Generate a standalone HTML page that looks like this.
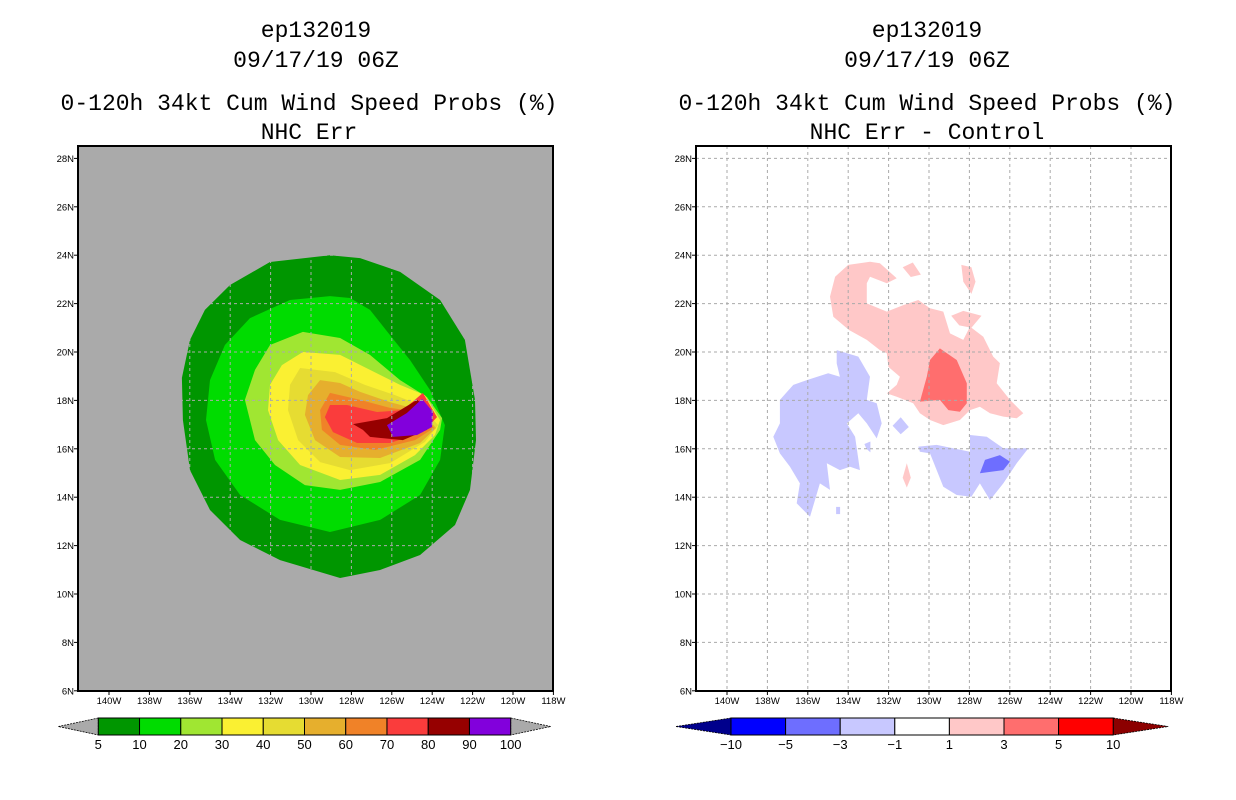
<!DOCTYPE html>
<html><head><meta charset="utf-8">
<style>
html,body{margin:0;padding:0;background:#fff;}
svg{display:block;}
.t{font-family:"Liberation Mono",monospace;font-size:23px;fill:#000;text-anchor:middle;}
.ax{font-family:"Liberation Sans",sans-serif;font-size:9.5px;fill:#000;}
.cb{font-family:"Liberation Sans",sans-serif;font-size:13px;fill:#000;text-anchor:middle;}
</style></head>
<body>
<svg id="chart" width="1236" height="800" viewBox="0 0 1236 800" xmlns="http://www.w3.org/2000/svg">
<text class="t" x="316" y="37">ep132019</text>
<text class="t" x="316" y="67">09/17/19 06Z</text>
<text class="t" x="309" y="110">0-120h 34kt Cum Wind Speed Probs (%)</text>
<text class="t" x="309" y="139">NHC Err</text>
<text class="t" x="927" y="37">ep132019</text>
<text class="t" x="927" y="67">09/17/19 06Z</text>
<text class="t" x="927" y="110">0-120h 34kt Cum Wind Speed Probs (%)</text>
<text class="t" x="927" y="139">NHC Err - Control</text>
<g id="layers"></g>
</svg>
<script>
// ---- data (lon in degrees W, lat in degrees N) ----
const lonTicks = [140,138,136,134,132,130,128,126,124,122,120,118];
const latTicks = [6,8,10,12,14,16,18,20,22,24,26,28];
const leftLevels = ["5","10","20","30","40","50","60","70","80","90","100"];
const leftColors = ["#009600","#00dc00","#a0e632","#faf032","#e6dc32","#e6af2d","#f08228","#fa3c3c","#960000","#8200dc"];
const rightLevels = ["-10","-5","-3","-1","1","3","5","10"];
const rightColors = ["#00008c","#0000ff","#6e6eff","#c8c8ff","#ffffff","#ffc8c8","#ff6e6e","#ff0000","#8c0000"];

const p5 = [[129.06,24.0],[132.03,23.72],[134.01,22.77],[135.25,21.74],[135.99,20.5],[136.39,18.93],[136.34,17.19],[135.99,15.12],[135.0,13.47],[133.51,12.23],[131.53,11.40],[128.56,10.66],[126.58,10.99],[124.6,11.61],[122.87,12.85],[122.13,14.30],[121.83,16.36],[121.88,18.02],[122.38,20.5],[123.61,22.15],[125.59,23.31],[127.57,23.88]];
const p10 = [[129.06,22.31],[131.04,22.15],[133.02,21.4],[134.26,20.29],[135.0,18.84],[135.2,17.19],[134.75,15.54],[133.51,14.09],[131.53,13.06],[129.06,12.56],[126.58,13.06],[124.6,14.09],[123.61,15.54],[123.37,16.98],[124.11,18.43],[125.1,19.67],[126.09,20.70],[127.08,21.74],[128.07,22.23]];
const p20 = [[130.4,20.83],[132.03,20.29],[132.77,19.26],[133.27,18.02],[132.77,16.36],[131.78,15.33],[130.3,14.5],[128.56,14.30],[126.58,14.63],[124.6,15.54],[123.61,16.78],[123.51,17.27],[124.26,18.14],[125.59,18.84],[127.08,19.88],[128.56,20.58]];
const p30 = [[130.4,20.0],[131.44,19.46],[132.03,18.64],[132.13,17.60],[131.63,16.36],[130.54,15.33],[128.56,14.71],[126.58,14.92],[124.85,15.74],[123.86,16.57],[123.61,17.19],[124.36,18.22],[125.59,18.64],[127.08,19.26],[128.56,19.88]];
const p40 = [[130.54,19.34],[131.04,18.64],[131.14,17.60],[130.64,16.36],[129.55,15.45],[128.07,15.12],[126.09,15.41],[124.36,16.28],[123.71,16.98],[124.6,17.81],[125.84,18.22],[127.33,18.64],[128.81,19.17]];
const p50 = [[129.55,18.84],[130.15,18.22],[130.3,17.40],[129.8,16.36],[128.56,15.66],[126.58,15.62],[124.6,16.24],[123.81,16.86],[124.6,17.60],[126.09,17.93],[127.57,18.35],[128.56,18.72]];
const p60 = [[129.06,18.31],[129.55,17.6],[129.46,16.78],[128.56,16.16],[126.83,15.95],[124.85,16.36],[123.91,16.86],[124.6,17.52],[126.09,17.69],[127.57,18.02]];
const p70 = [[129.06,17.81],[129.31,17.31],[128.91,16.69],[127.72,16.24],[126.09,16.24],[124.46,16.69],[123.76,17.31],[124.46,18.31],[125.45,17.60],[126.73,17.52],[128.22,17.81]];
const p80 = [[127.92,17.02],[126.24,17.27],[124.75,18.02],[123.96,17.48],[124.26,16.78],[125.45,16.36],[127.08,16.49],[127.43,16.78]];
const p90 = [[126.24,16.98],[125.25,17.48],[124.5,18.06],[123.96,17.52],[124.01,16.90],[124.75,16.57],[125.94,16.49]];
const leftPolys = [p5,p10,p20,p30,p40,p50,p60,p70,p80,p90];

const pinkMain = [[134.0,23.6],[132.92,23.73],[132.43,23.67],[131.6,23.05],[132.09,22.84],[132.92,23.11],[133.08,22.84],[133.08,22.01],[132.09,21.67],[131.27,21.94],[130.53,22.15],[129.95,21.81],[129.29,21.67],[128.96,20.77],[128.30,20.5],[127.97,21.05],[127.31,20.63],[126.82,19.81],[126.49,19.54],[126.65,18.71],[125.99,18.02],[125.33,17.47],[125.66,17.26],[126.32,17.33],[126.98,17.47],[127.48,17.74],[127.97,17.60],[128.47,17.19],[129.29,16.98],[129.95,17.19],[130.45,17.47],[130.78,17.88],[131.6,18.15],[132.09,18.29],[131.6,18.64],[131.44,18.98],[132.01,19.39],[132.09,19.95],[132.43,20.08],[133.08,20.5],[133.96,20.91],[134.74,21.46],[134.9,22.29],[134.65,23.11]];
const pinkB1 = [[131.3,23.5],[130.8,23.7],[130.4,23.2],[130.9,23.1]];
const pinkB2 = [[128.4,23.6],[127.9,23.5],[127.7,22.9],[127.9,22.4],[128.3,22.9]];
const pinkB3 = [[128.9,21.5],[128.3,21.7],[127.4,21.5],[127.9,21.0],[128.5,21.1]];
const pinkB4 = [[131.1,15.4],[130.9,14.8],[131.1,14.4],[131.3,14.8]];
const redCore = [[129.95,19.67],[129.46,20.15],[128.63,19.67],[128.13,18.71],[128.13,17.88],[128.47,17.53],[129.04,17.60],[129.46,18.02],[130.45,17.95],[130.11,18.98]];
const blueWest = [[134.57,20.08],[133.5,19.81],[132.92,18.98],[133.08,18.02],[132.59,17.88],[132.34,17.05],[132.59,16.43],[133.08,17.05],[133.5,17.47],[134.07,17.05],[133.66,16.5],[133.42,15.12],[133.91,15.26],[134.41,15.12],[135.06,15.40],[134.9,14.30],[135.4,14.57],[135.89,13.19],[136.55,13.75],[136.39,14.57],[136.88,15.26],[137.38,15.81],[137.71,16.5],[137.38,17.05],[137.38,18.02],[136.72,18.64],[136.05,18.84],[134.99,19.12],[134.41,18.98],[134.57,19.53]];
const blueB1 = [[131.8,16.95],[131.4,17.3],[131.0,16.9],[131.4,16.6]];
const blueB2 = [[133.2,16.2],[132.9,16.3],[132.9,15.85],[133.1,16.0]];
const blueB3 = [[134.6,13.6],[134.4,13.6],[134.4,13.3],[134.6,13.3]];
const blueEast = [[130.53,16.09],[129.62,16.16],[127.97,15.88],[127.97,16.57],[127.14,16.5],[126.32,16.02],[125.08,16.02],[125.66,15.40],[126.32,14.57],[126.98,13.88],[127.48,14.57],[127.9,14.02],[128.63,14.09],[129.29,14.43],[129.95,15.81],[130.45,15.88]];
const blueCore = [[127.23,15.54],[126.49,15.74],[125.99,15.47],[126.32,15.12],[127.48,14.99]];

// ---- axis functions ----
const NS='http://www.w3.org/2000/svg';
function xOf(lon, off){ return off + 31 + (140 - lon) * 20.2; }
function yOf(lat){ return 352 - (lat - 20) * 24.2; }
const layers = document.getElementById('layers');
function mk(tag, attrs, parent){ const e=document.createElementNS(NS,tag); for(const k in attrs) e.setAttribute(k,attrs[k]); (parent||layers).appendChild(e); return e; }
function poly(pts, off, fill, name, parent){
  const e = mk('polygon',{points: pts.map(p=>xOf(p[0],off).toFixed(1)+','+yOf(p[1]).toFixed(1)).join(' '), fill: fill}, parent);
  
  
  return e;
}
function panel(off, bg, idx){
  const g = mk('g',{});
  
  
  const clipId = 'clip'+idx;
  const cp = mk('clipPath',{id:clipId}, g);
  mk('rect',{x:off,y:146,width:475,height:545}, cp);
  const bgr = mk('rect',{x:off,y:146,width:475,height:545,fill:bg}, g);
  
  
  const inner = mk('g',{'clip-path':'url(#'+clipId+')'}, g);
  return {g, inner};
}
function gridAndFrame(P, off, gridColor){
  lonTicks.forEach(l=>{ const x=xOf(l,off); const ln=mk('line',{x1:x,y1:146,x2:x,y2:691,stroke:gridColor,'stroke-width':1,'stroke-dasharray':'3,3'}, P.inner);
      });
  latTicks.forEach(l=>{ const y=yOf(l); const ln=mk('line',{x1:off,y1:y,x2:off+475,y2:y,stroke:gridColor,'stroke-width':1,'stroke-dasharray':'3,3'}, P.inner);
      });
  const fr = mk('rect',{x:off,y:146,width:475,height:545,fill:'none',stroke:'#000','stroke-width':2}, P.g);
   
  lonTicks.forEach(l=>{ const x=xOf(l,off);
    mk('line',{x1:x,y1:691,x2:x,y2:695,stroke:'#000','stroke-width':1},P.g);
    const t=mk('text',{x:x,y:704,'text-anchor':'middle',class:'ax'},P.g); t.textContent=l+'W';
      });
  latTicks.forEach(l=>{ const y=yOf(l);
    mk('line',{x1:off-4,y1:y,x2:off,y2:y,stroke:'#000','stroke-width':1},P.g);
    const t=mk('text',{x:off-4,y:y+3.5,'text-anchor':'end',class:'ax'},P.g); t.textContent=l+'N';
      });
}
const L = panel(78, '#aaaaaa', 0);
leftPolys.forEach((p,i)=>poly(p, 78, leftColors[i], 'prob-contour-'+leftLevels[i], L.inner));
gridAndFrame(L, 78, '#aaaaaa');
const R = panel(696, '#ffffff', 1);
[pinkMain,pinkB1,pinkB2,pinkB3,pinkB4].forEach(p=>poly(p,696,rightColors[5],'diff-contour-1-to-3',R.inner));
poly(redCore,696,rightColors[6],'diff-contour-3-to-5',R.inner);
[blueWest,blueB1,blueB2,blueB3,blueEast].forEach(p=>poly(p,696,rightColors[3],'diff-contour-minus1-to-minus3',R.inner));
poly(blueCore,696,rightColors[2],'diff-contour-minus3-to-minus5',R.inner);
gridAndFrame(R, 696, '#aaaaaa');

function colorbar(x0, boxW, triW, labels, name, leftTriColor, rightTriColor, boxColors){
  const g = mk('g',{});
  
  
  const y0=718, y1=735, ym=726.5;
  const end = x0 + boxColors.length*boxW;
  const lt = mk('polygon',{points:`${x0-triW},${ym} ${x0},${y0} ${x0},${y1}`,fill:leftTriColor,stroke:'#000','stroke-width':0.8,'stroke-dasharray':'2,1'},g);
   
  const rt = mk('polygon',{points:`${end},${y0} ${end+triW},${ym} ${end},${y1}`,fill:rightTriColor,stroke:'#000','stroke-width':0.8,'stroke-dasharray':'2,1'},g);
   
  boxColors.forEach((c,i)=>{ const r=mk('rect',{x:x0+i*boxW,y:y0,width:boxW,height:y1-y0,fill:c,stroke:'#000','stroke-width':1},g);
      });
  labels.forEach((s,i)=>{ const t=mk('text',{x:x0+i*boxW,y:749,class:'cb'},g); t.textContent=s.replace('-','\u2212');
      });
}
colorbar(98.3, 41.24, 40, leftLevels, 'left-colorbar', '#aaaaaa', '#aaaaaa', leftColors);
colorbar(731, 54.6, 55, rightLevels, 'right-colorbar', rightColors[0], rightColors[8], rightColors.slice(1,8));
</script>
</body></html>
